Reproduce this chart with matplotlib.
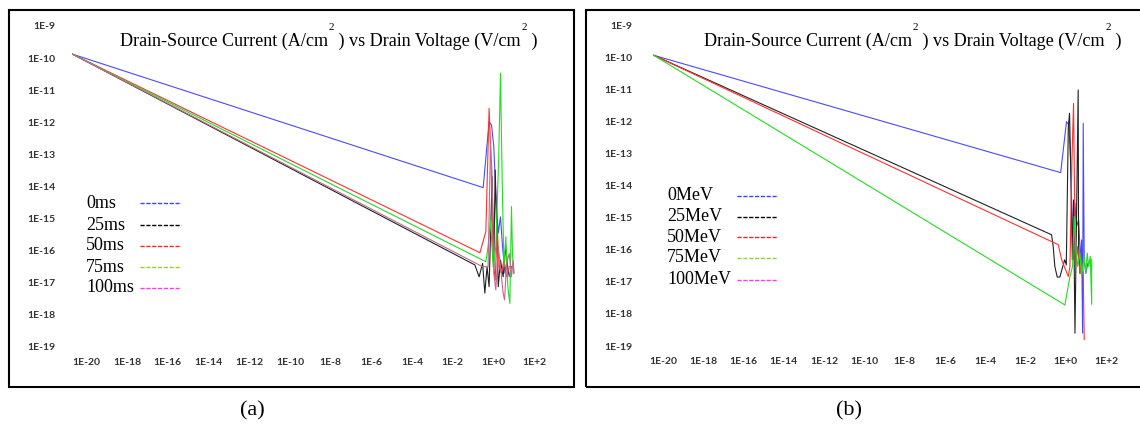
import numpy as np
import matplotlib
matplotlib.use('Agg')
import matplotlib.pyplot as plt
from matplotlib.patches import Rectangle
from matplotlib.lines import Line2D
from matplotlib.ticker import FixedLocator, NullLocator

W, H, DPI = 1140, 432, 100

# ---------------- data (log10 exponents) ----------------
x_tick_exp = list(range(-20, 3, 2))
x_tick_labels = ['1E-20', '1E-18', '1E-16', '1E-14', '1E-12', '1E-10', '1E-8',
                 '1E-6', '1E-4', '1E-2', '1E+0', '1E+2']
y_tick_exp = list(range(-19, -8))
y_tick_labels = ['1E-19', '1E-18', '1E-17', '1E-16', '1E-15', '1E-14', '1E-13',
                 '1E-12', '1E-11', '1E-10', '1E-9']

title_parts = ['Drain-Source Current (A/cm', '2', ' ) vs Drain Voltage (V/cm', '2', ' )']

# panel (a): time series
a_labels = ['0ms', '25ms', '50ms', '75ms', '100ms']
a_0ms_x = [-20.68, -0.50, -0.21, -0.09, 0.02, 0.12, 0.24, 0.35, 0.45, 0.57, 0.65, 0.78, 0.89]
a_0ms_y = [-9.88, -14.04, -11.98, -12.09, -12.76, -14.22, -15.46, -14.95, -15.88, -16.71, -16.40, -16.82, -16.50]
a_25ms_x = [-20.68, -0.91, -0.70, -0.53, -0.42, -0.31, -0.21, -0.12, -0.06, 0.02, 0.09, 0.16, 0.24, 0.35, 0.48, 0.61, 0.73]
a_25ms_y = [-9.88, -16.45, -16.82, -16.40, -17.33, -16.51, -17.13, -15.05, -13.70, -16.51, -13.49, -15.26, -17.13, -16.30, -16.82, -15.88, -16.71]
a_50ms_x = [-20.68, -0.66, -0.37, -0.21, -0.14, -0.07, -0.01, 0.09, 0.19, 0.28, 0.40, 0.52, 0.65, 0.78]
a_50ms_y = [-9.88, -16.07, -15.41, -11.57, -12.76, -14.43, -16.30, -16.92, -15.26, -16.51, -16.71, -16.30, -16.82, -16.50]
a_75ms_x = [-20.68, -0.37, -0.26, -0.14, -0.01, 0.12, 0.26, 0.35, 0.43, 0.52, 0.61, 0.71, 0.81, 0.89, 0.94, 0.99]
a_75ms_y = [-9.88, -16.35, -15.88, -15.05, -16.51, -15.88, -13.18, -10.47, -13.70, -16.51, -15.57, -17.13, -17.65, -14.63, -16.09, -16.71]
a_100ms_x = [-20.68, -0.55, -0.26, -0.14, -0.07, 0.02, 0.12, 0.24, 0.35, 0.48, 0.55, 0.65, 0.78, 0.89, 0.97, 1.02]
a_100ms_y = [-9.88, -16.50, -16.51, -12.66, -13.49, -16.71, -17.23, -15.88, -16.51, -17.33, -17.54, -16.40, -16.09, -16.82, -16.30, -16.71]

# panel (b): energy series
b_labels = ['0MeV', '25MeV', '50MeV', '75MeV', '100MeV']
b_0_x = [-20.46, -0.25, 0.04, 0.16, 0.24, 0.31, 0.37, 0.46, 0.54, 0.64, 0.74, 0.79, 0.84, 0.87, 0.92, 1.00, 1.10]
b_0_y = [-9.93, -13.59, -12.00, -12.10, -13.19, -14.86, -16.31, -14.54, -15.27, -15.07, -16.31, -15.69, -18.60, -12.05, -16.31, -16.73, -16.42]
b_25_x = [-20.46, -0.70, -0.62, -0.54, -0.42, -0.29, -0.17, -0.05, 0.03, 0.13, 0.19, 0.26, 0.33, 0.39, 0.46, 0.51, 0.62, 0.64, 0.71]
b_25_y = [-9.93, -15.53, -15.90, -16.52, -16.85, -16.85, -16.57, -16.31, -16.47, -12.16, -11.74, -13.71, -16.31, -14.44, -18.60, -16.31, -11.01, -15.90, -16.73]
b_50_x = [-20.46, -0.37, -0.20, -0.04, 0.13, 0.21, 0.31, 0.39, 0.44, 0.49, 0.59, 0.71, 0.79, 0.87, 0.92]
b_50_y = [-9.93, -15.84, -16.31, -16.57, -16.83, -16.52, -13.19, -11.43, -14.23, -16.52, -15.90, -16.73, -16.31, -16.73, -18.80]
b_75_x = [-20.46, -0.04, 0.21, 0.34, 0.42, 0.51, 0.59, 0.71, 0.79, 0.91, 1.00, 1.07, 1.14, 1.22, 1.29, 1.29]
b_75_y = [-9.93, -17.72, -16.83, -16.52, -14.96, -15.90, -16.52, -16.10, -16.83, -16.21, -16.73, -16.10, -16.52, -16.20, -17.70, -16.30]

plot_colors = ['#4a4aff', '#222222', '#ff3030', '#22dd22', '#c06a8a']
legend_colors = ['#4040ff', '#000000', '#ff2020', '#99cc33', '#ff33ff']

a_series = [(a_0ms_x, a_0ms_y), (a_25ms_x, a_25ms_y), (a_50ms_x, a_50ms_y),
            (a_75ms_x, a_75ms_y), (a_100ms_x, a_100ms_y)]
b_series = [(b_0_x, b_0_y), (b_25_x, b_25_y), (b_50_x, b_50_y), (b_75_x, b_75_y)]

SERIF = ['Liberation Serif', 'DejaVu Serif']
TICKFONT = ['Lato', 'DejaVu Sans']

fig = plt.figure(figsize=(W / DPI, H / DPI), dpi=DPI)


def px_axes(l, r, t, b):
    return fig.add_axes([l / W, 1 - b / H, (r - l) / W, (b - t) / H])


def setup(ax):
    ax.set_xscale('log')
    ax.set_yscale('log')
    ax.set_xlim(1e-21, 1e3)
    ax.set_ylim(1e-19, 1e-9)
    for s in ax.spines.values():
        s.set_visible(False)
    ax.xaxis.set_major_locator(FixedLocator([10.0 ** e for e in x_tick_exp]))
    ax.yaxis.set_major_locator(FixedLocator([10.0 ** e for e in y_tick_exp]))
    ax.xaxis.set_minor_locator(NullLocator())
    ax.yaxis.set_minor_locator(NullLocator())
    ax.set_xticklabels(x_tick_labels)
    ax.set_yticklabels(y_tick_labels)
    ax.tick_params(axis='both', length=0, labelsize=7.5, colors='#333333')
    ax.tick_params(axis='y', pad=7.5)
    ax.tick_params(axis='x', pad=8)
    for lab in ax.get_xticklabels() + ax.get_yticklabels():
        lab.set_fontfamily(TICKFONT)
        lab.set_fontweight('bold')
    ax.patch.set_alpha(0)


def title(ax, x0, ybase):
    fs, sfs = 13.1, 8
    t1 = fig.text(x0 / W, 1 - ybase / H, title_parts[0], fontsize=fs, family=SERIF,
                  va='baseline', ha='left')
    s1 = ax.annotate(title_parts[1], xy=(1, 1), xycoords=t1, xytext=(0.3, 3.5),
                     textcoords='offset points', fontsize=sfs, family=SERIF,
                     va='center', ha='left', annotation_clip=False)
    t2 = ax.annotate(title_parts[2], xy=(1, 0), xycoords=(s1, t1), fontsize=fs,
                     family=SERIF, va='bottom', ha='left', annotation_clip=False)
    s2 = ax.annotate(title_parts[3], xy=(1, 1), xycoords=t2, xytext=(0.3, 3.5),
                     textcoords='offset points', fontsize=sfs, family=SERIF,
                     va='center', ha='left', annotation_clip=False)
    ax.annotate(title_parts[4], xy=(1, 0), xycoords=(s2, t2), fontsize=fs,
                family=SERIF, va='bottom', ha='left', annotation_clip=False)


def legend(labels, colors, xtext, x0, x1, ys):
    for lab, c, y in zip(labels, colors, ys):
        fig.text(xtext / W, 1 - y / H, lab, fontsize=13, family=SERIF,
                 va='center', ha='left')
        fig.add_artist(Line2D([x0 / W, x1 / W], [1 - y / H, 1 - y / H], color=c,
                              lw=1.0, ls=(0, (3, 1.2)), transform=fig.transFigure))


# frames
fig.add_artist(Rectangle((9 / W, 1 - 387 / H), (574 - 9) / W, (387 - 10) / H,
                         transform=fig.transFigure, fill=False, lw=1.5, ec='black'))
fig.add_artist(Rectangle((586 / W, 1 - 387 / H), (1160 - 586) / W, (387 - 10) / H,
                         transform=fig.transFigure, fill=False, lw=1.5, ec='black'))

# panel (a)
axa = px_axes(66.15, 554.4, 26, 346.7)
setup(axa)
for (xs, ys), c in zip(a_series, plot_colors):
    axa.plot(10.0 ** np.array(xs), 10.0 ** np.array(ys), color=c, lw=0.8, clip_on=False)
title(axa, 120, 46)
legend(a_labels, legend_colors, 86, 140, 181, [203, 225, 246, 267, 288])
fig.text(252 / W, 1 - 411 / H, '(a)', fontsize=16, family=SERIF, ha='center', va='center')

# panel (b)
axb = px_axes(642.9, 1126.1, 25.5, 346)
setup(axb)
for (xs, ys), c in zip(b_series, plot_colors):
    axb.plot(10.0 ** np.array(xs), 10.0 ** np.array(ys), color=c, lw=0.8, clip_on=False)
title(axb, 704, 46)
legend(b_labels, legend_colors, 667, 737, 777, [196, 217, 237, 258, 280])
fig.text(849 / W, 1 - 411 / H, '(b)', fontsize=16, family=SERIF, ha='center', va='center')

fig.savefig('out.png', dpi=DPI)
